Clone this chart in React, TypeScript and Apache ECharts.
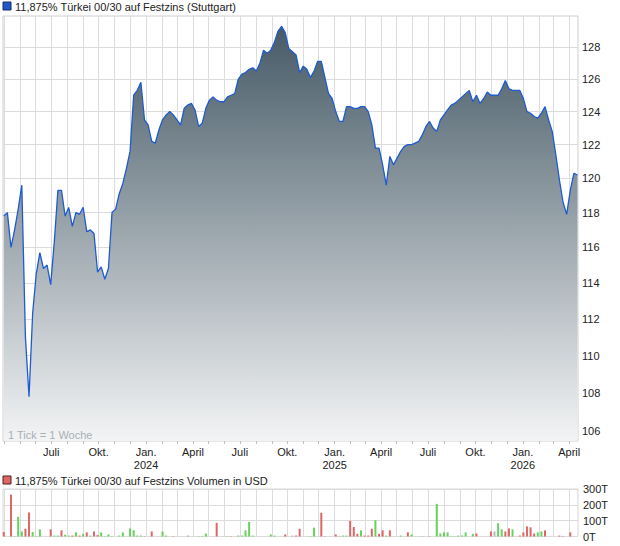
import React, { useEffect, useRef } from "react";
import * as echarts from "echarts";

const FONT = "'Liberation Sans', Arial, sans-serif";

const priceTitle = "11,875% Türkei 00/30 auf Festzins (Stuttgart)";
const volumeTitle = "11,875% Türkei 00/30 auf Festzins Volumen in USD";
const tickNote = "1 Tick = 1 Woche";

// weekly closes (Fridays), first week 2023-03-31
const FIRST_WEEK = Date.UTC(2023, 2, 31);
const WEEK_MS = 7 * 24 * 3600 * 1000;
const X_MIN = Date.UTC(2023, 2, 29, 12);
const X_MAX = Date.UTC(2026, 3, 18);

const prices = [
  117.8, 118.0, 116.0, 117.0, 118.2, 119.6, 111.0, 107.8, 112.3, 114.5,
  115.7, 114.8, 115.0, 113.9, 116.3, 119.3, 119.3, 117.8, 118.3, 117.2,
  118.0, 117.9, 118.3, 116.9, 117.0, 116.8, 114.6, 114.9, 114.2, 114.8,
  118.0, 118.2, 119.1, 119.7, 120.6, 121.6, 125.0, 125.3, 125.8, 123.5,
  123.2, 122.2, 122.1, 122.9, 123.5, 123.8, 124.0, 123.8, 123.5, 123.2,
  124.2, 124.4, 124.5, 124.1, 123.1, 123.3, 124.2, 124.7, 124.9, 124.7,
  124.6, 124.6, 124.9, 125.0, 125.1, 126.0, 126.3, 126.4, 126.6, 126.7,
  126.5, 127.0, 127.8, 127.6, 127.8, 128.3, 129.0, 129.3, 128.9, 127.9,
  127.7, 127.5, 126.4, 126.8, 126.6, 126.1, 126.5, 127.1, 127.1, 126.1,
  125.1, 124.8, 124.0, 123.4, 123.4, 124.3, 124.3, 124.2, 124.2, 124.3,
  124.3, 124.0, 123.2, 121.8, 121.8, 120.8, 119.6, 121.3, 120.8, 121.2,
  121.6, 121.9, 122.0, 122.0, 122.1, 122.2, 122.6, 123.1, 123.4, 123.0,
  122.8, 123.5, 123.8, 124.1, 124.4, 124.5, 124.7, 124.9, 125.1, 125.3,
  124.6, 125.0, 124.5, 124.8, 125.2, 125.0, 125.0, 125.0, 125.4, 125.9,
  125.4, 125.3, 125.3, 125.3, 124.8, 124.0, 123.9, 123.7, 123.6, 123.9,
  124.3, 123.5, 122.8, 121.4, 119.9, 118.6, 117.9, 119.3, 120.3, 120.2,
];

const priceTicks = [106, 108, 110, 112, 114, 116, 118, 120, 122, 124, 126, 128];

// volume (thousand USD) by week index
const volWeeks = [
  0, 2, 3, 4, 5, 6, 7, 8, 9, 10,
  13, 14, 15, 16, 17, 18, 19, 20, 21, 22,
  23, 24, 25, 26, 27, 28, 29, 30, 32, 33,
  35, 36, 37, 38, 39, 41, 44, 45, 47, 51,
  54, 55, 56, 59, 61, 62, 63, 65, 66, 67,
  68, 69, 74, 75, 78, 80, 81, 82, 85, 86,
  88, 89, 92, 93, 94, 95, 96, 97, 98, 99,
  100, 101, 102, 103, 104, 105, 106, 107, 110, 112,
  113, 116, 118, 120, 121, 122, 123, 124, 125, 126,
  127, 128, 130, 131, 135, 136, 137, 138, 139, 140,
  141, 143, 144, 145, 146, 147, 148, 149, 150, 154,
  155, 157,
];
const volValues = [
  28, 264, 2, 124, 32, 49, 152, 28, 2, 45,
  45, 6, 6, 39, 11, 6, 6, 26, 6, 17,
  26, 6, 32, 9, 26, 2, 13, 2, 6, 26,
  51, 39, 6, 6, 2, 32, 32, 6, 2, 6,
  2, 2, 19, 86, 2, 2, 2, 6, 6, 39,
  92, 6, 13, 6, 13, 6, 6, 49, 2, 56,
  150, 2, 13, 2, 6, 6, 99, 60, 17, 39,
  6, 6, 49, 103, 17, 39, 6, 39, 6, 26,
  13, 2, 2, 206, 19, 26, 26, 2, 2, 6,
  6, 26, 17, 19, 32, 32, 84, 45, 32, 51,
  45, 6, 26, 64, 58, 19, 26, 32, 39, 6,
  2, 26,
];
const volDirs = [
  "d", "d", "u", "u", "u", "d", "d", "u", "u", "u",
  "d", "u", "u", "d", "u", "u", "d", "u", "d", "u",
  "d", "u", "d", "d", "u", "u", "u", "u", "u", "u",
  "u", "u", "u", "u", "d", "d", "u", "u", "d", "u",
  "u", "u", "u", "d", "n", "u", "d", "u", "u", "u",
  "u", "u", "u", "u", "d", "n", "d", "d", "u", "u",
  "d", "d", "d", "d", "u", "u", "d", "d", "d", "u",
  "d", "d", "d", "u", "d", "d", "u", "d", "u", "d",
  "u", "u", "d", "u", "u", "u", "u", "u", "u", "u",
  "u", "u", "u", "d", "d", "n", "u", "u", "d", "d",
  "u", "d", "d", "d", "d", "d", "u", "u", "d", "d",
  "d", "d",
];

const monthLabel: Record<number, string> = { 0: "Jan.", 3: "April", 6: "Juli", 9: "Okt." };

const dirColor: Record<string, string> = { u: "#66d15c", d: "#e06666", n: "#b8b8b8" };

export default function App() {
  const ref = useRef<HTMLDivElement>(null);

  useEffect(() => {
    if (!ref.current) return;
    const chart = echarts.init(ref.current, undefined, { renderer: "svg" });

    const monthStarts: number[] = [];
    for (let y = 2023; y <= 2026; y++) {
      for (let m = 0; m < 12; m++) {
        const t = Date.UTC(y, m, 1);
        if (t > X_MIN && t < X_MAX) monthStarts.push(t);
      }
    }
    const quarterStarts = monthStarts.filter(
      (t) => new Date(t).getUTCMonth() % 3 === 0 && t >= Date.UTC(2023, 6, 1)
    );

    const priceData = prices.map((v, i) => [FIRST_WEEK + i * WEEK_MS, v]);
    const volData = volWeeks.map((w, k) => ({
      value: [FIRST_WEEK + w * WEEK_MS, volValues[k]],
      itemStyle: { color: dirColor[volDirs[k]] },
    }));

    const fmt = (val: number) => {
      const d = new Date(val);
      const m = d.getUTCMonth();
      const name = monthLabel[m] || "";
      return m === 0 ? `${name}\n${d.getUTCFullYear()}` : name;
    };

    const splitStyle = { show: true, lineStyle: { color: "#dcdcdc", width: 1 } };

    chart.setOption({
      animation: false,
      textStyle: { fontFamily: FONT },
      graphic: [
        { type: "rect", x: 3, y: 2, shape: { width: 8, height: 8 }, style: { fill: "#1f56c8", stroke: "#1b2d5e", lineWidth: 1 } },
        { type: "text", x: 15, y: 7, style: { text: priceTitle, fill: "#222", font: `11px ${FONT}`, verticalAlign: "middle" } },
        { type: "text", x: 8, y: 435, z: 10, style: { text: tickNote, fill: "#a9afb4", font: `11px ${FONT}`, verticalAlign: "middle" } },
        { type: "rect", x: 3, y: 476, shape: { width: 8, height: 8 }, style: { fill: "#e06666", stroke: "#4a2020", lineWidth: 1 } },
        { type: "text", x: 15, y: 481, style: { text: volumeTitle, fill: "#222", font: `11px ${FONT}`, verticalAlign: "middle" } },
      ],
      grid: [
        { left: 3, right: 42, top: 16, height: 425, show: true, borderColor: "#cfcfcf", borderWidth: 1 },
        { left: 3, right: 42, top: 489, height: 47.5, show: true, borderColor: "#d6d6d6", borderWidth: 1 },
      ],
      xAxis: [
        {
          type: "value",
          gridIndex: 0,
          min: X_MIN,
          max: X_MAX,
          axisLine: { show: false },
          axisTick: { show: true, customValues: monthStarts, length: 3, lineStyle: { color: "#c0c0c0" } },
          axisLabel: { customValues: quarterStarts, formatter: fmt, color: "#222", fontSize: 11, margin: 4, lineHeight: 13, hideOverlap: false, showMinLabel: true, showMaxLabel: true },
          splitLine: splitStyle,
        },
        {
          type: "value",
          gridIndex: 1,
          min: X_MIN,
          max: X_MAX,
          axisLine: { show: false },
          axisTick: { show: false, customValues: monthStarts },
          axisLabel: { show: false, customValues: monthStarts },
          splitLine: splitStyle,
        },
      ],
      yAxis: [
        {
          type: "log",
          gridIndex: 0,
          min: 105.48,
          max: 129.96,
          position: "right",
          axisLine: { show: false },
          axisTick: { show: false },
          axisLabel: { show: false },
          splitLine: { show: false },
        },
        {
          type: "value",
          gridIndex: 1,
          min: 0,
          max: 300,
          interval: 100,
          position: "right",
          axisLine: { show: false },
          axisTick: { show: false },
          axisLabel: { formatter: "{value}T", color: "#222", fontSize: 11, margin: 5 },
          splitLine: splitStyle,
        },
      ],
      series: [
        {
          type: "line",
          name: priceTitle,
          xAxisIndex: 0,
          yAxisIndex: 0,
          data: priceData,
          symbol: "none",
          z: 3,
          lineStyle: { color: "#1f5bd0", width: 1.3 },
          itemStyle: { color: "#1f5bd0" },
          areaStyle: {
            origin: "start",
            opacity: 1,
            color: new echarts.graphic.LinearGradient(0, 0, 0, 1, [
              { offset: 0, color: "#465a66" },
              { offset: 1, color: "#f3f4f5" },
            ]),
          },
          markLine: {
            silent: true,
            z: 1,
            symbol: ["none", "none"],
            lineStyle: { color: "#dcdcdc", type: "solid", width: 1 },
            label: { position: "end", formatter: (p: any) => String(p.value), color: "#222", fontSize: 11, distance: 4 },
            emphasis: { disabled: true },
            data: priceTicks.map((v) => ({ yAxis: v })),
          },
        },
        {
          type: "bar",
          name: volumeTitle,
          xAxisIndex: 1,
          yAxisIndex: 1,
          barWidth: 2,
          data: volData,
          itemStyle: { color: "#e06666" },
        },
      ],
    });

    return () => chart.dispose();
  }, []);

  return <div ref={ref} style={{ width: 620, height: 546, position: "absolute", left: 0, top: 0 }} />;
}
